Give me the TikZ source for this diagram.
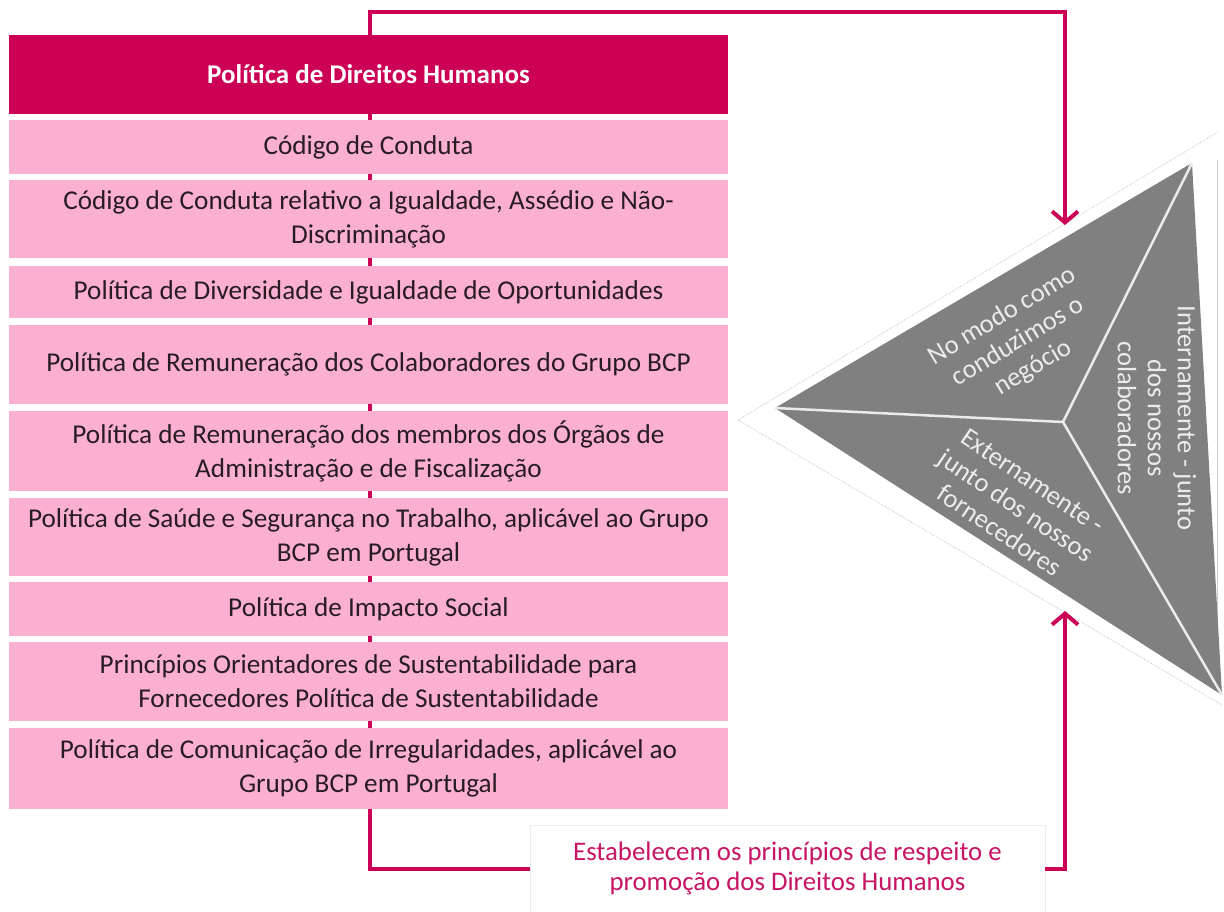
\documentclass[tikz,border=0pt]{standalone}
\usepackage{fontspec}
\setmainfont{Carlito}
\usetikzlibrary{arrows.meta}
\definecolor{mag}{RGB}{204,0,84}
\definecolor{pinkbox}{RGB}{251,176,210}
\definecolor{boxtext}{RGB}{40,28,34}
\definecolor{trigray}{RGB}{128,128,128}
\definecolor{tritext}{RGB}{236,236,236}
\definecolor{labtext}{RGB}{200,20,100}
\begin{document}
\begin{tikzpicture}[x=1pt,y=-1pt,
  pbox/.style={fill=pinkbox,draw=none,minimum width=719pt,inner sep=0pt,align=center,
    text=boxtext,font=\fontsize{27.2}{34}\selectfont},
  hbox/.style={fill=mag,draw=none,minimum width=719pt,inner sep=0pt,align=center,
    text=white,font=\fontsize{27}{30}\selectfont\bfseries},
  link/.style={draw=mag,line width=4pt},
  conn/.style={draw=mag,line width=4pt},
  arr/.style={conn,-{Straight Barb[length=11pt,width=26pt,line width=4pt]}},
  tritxt/.style={text=tritext,align=center,font=\fontsize{26.5}{30}\selectfont,inner sep=0pt},
  labbox/.style={fill=white,draw=black!8,minimum width=515pt,minimum height=87pt,inner sep=0pt,
    align=center,text=labtext,font=\fontsize{26.8}{30}\selectfont}
]
\useasboundingbox (0,0) rectangle (1224,912);

% boxes
\node[hbox,minimum height=79pt] (h) at (368.5,74.5) {Política de Direitos Humanos};
\node[pbox,minimum height=54pt] (b1) at (368.5,147) {Código de Conduta};
\node[pbox,minimum height=78pt] (b2) at (368.5,219) {Código de Conduta relativo a Igualdade, Assédio e Não-\\Discriminação};
\node[pbox,minimum height=52pt] (b3) at (368.5,292) {Política de Diversidade e Igualdade de Oportunidades};
\node[pbox,minimum height=79pt] (b4) at (368.5,364.5) {Política de Remuneração dos Colaboradores do Grupo BCP};
\node[pbox,minimum height=80pt] (b5) at (368.5,451) {Política de Remuneração dos membros dos Órgãos de\\Administração e de Fiscalização};
\node[pbox,minimum height=78pt] (b6) at (368.5,537) {Política de Saúde e Segurança no Trabalho, aplicável ao Grupo\\BCP em Portugal};
\node[pbox,minimum height=54pt] (b7) at (368.5,609) {Política de Impacto Social};
\node[pbox,minimum height=79pt] (b8) at (368.5,681.5) {Princípios Orientadores de Sustentabilidade para\\Fornecedores Política de Sustentabilidade};
\node[pbox,minimum height=81pt] (b9) at (368.5,768.5) {Política de Comunicação de Irregularidades, aplicável ao\\Grupo BCP em Portugal};

% small links between boxes
\foreach \a/\b in {h/b1,b1/b2,b2/b3,b3/b4,b4/b5,b5/b6,b6/b7,b7/b8,b8/b9}
  \draw[link] ([xshift=1.5pt]\a.south) -- ([xshift=1.5pt]\b.north);

% triangle
\coordinate (ol) at (738,420);
\coordinate (ot) at (1218,132);
\coordinate (ob) at (1222,705);
\fill[white] (ol) -- (ot) -- (ob) -- cycle;
\draw[black!30,densely dotted,line width=0.6pt] (ob) -- (ol) -- (ot);
\draw[black!20,line width=1pt] (1217,160) -- (1217,690);
\coordinate (tl) at (775,408);
\coordinate (tt) at (1192,163);
\coordinate (tb) at (1222,695);
\coordinate (tc) at (1063,422);
\fill[trigray] (tl) -- (tt) -- (tb) -- cycle;
\draw[white!92!black,line width=2.5pt] (tl) -- (tc) (tt) -- (tc) (tb) -- (tc);

\node[tritxt,rotate=31] (t1) at (1018,342) {No modo como\\conduzimos o\\negócio};
\node[tritxt,rotate=-90] (t2) at (1157,418) {Internamente - junto\\dos nossos\\colaboradores};
\node[tritxt,rotate=-34] (t3) at (1016,506) {Externamente -\\junto dos nossos\\fornecedores};

% label
\node[labbox] (lab) at (787.5,868.5) {Estabelecem os princípios de respeito e\\promoção dos Direitos Humanos};

% connectors
\coordinate (topc) at (1065,12);
\coordinate (atop) at (1065,225);
\coordinate (abot) at (1065,611);
\draw[arr] ([xshift=1.5pt]h.north) |- (topc) -- (atop);
\draw[conn] ([xshift=1.5pt]b9.south) |- (lab.west);
\draw[arr] (lab.east) -| (abot);
\end{tikzpicture}
\end{document}
